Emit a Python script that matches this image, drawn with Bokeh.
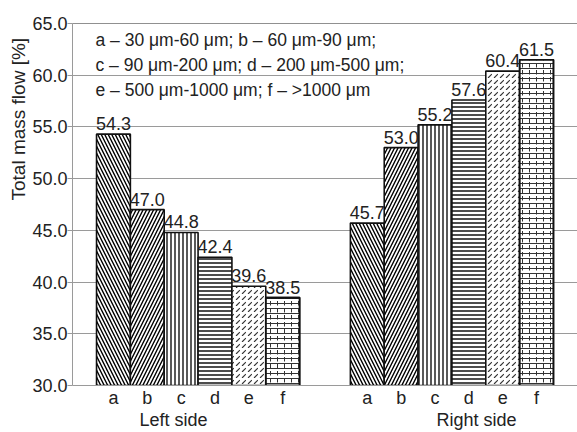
from bokeh.plotting import figure
from bokeh.models import (FactorRange, Range1d, Label, Span, ColumnDataSource,
                          FixedTicker, NumeralTickFormatter, CategoricalAxis,
                          Title)
from bokeh.embed import file_html
from bokeh.resources import INLINE
from bokeh.core.properties import value

# ---------------- data ----------------
groups = ["Left side", "Right side"]
sizes = ["a", "b", "c", "d", "e", "f"]
left_values = [54.3, 47.0, 44.8, 42.4, 39.6, 38.5]
right_values = [45.7, 53.0, 55.2, 57.6, 60.4, 61.5]
y_ticks = [30.0, 35.0, 40.0, 45.0, 50.0, 55.0, 60.0, 65.0]
y_label = "Total mass flow [%]"
legend_lines = [
    "a \u2013 30 \u03bcm-60 \u03bcm; b \u2013 60 \u03bcm-90 \u03bcm;",
    "c \u2013 90 \u03bcm-200 \u03bcm; d \u2013 200 \u03bcm-500 \u03bcm;",
    "e \u2013 500 \u03bcm-1000 \u03bcm; f \u2013 >1000 \u03bcm",
]

# ---------------- styles ----------------
FONT = "Liberation Sans"
TXT = "#222222"
GRID = "#9a9a9a"
hatch_style = {
    "a": ("left_diagonal_line", 7, 1.4, "black"),
    "b": ("right_diagonal_line", 7, 1.4, "black"),
    "c": ("vertical_line", 4, 1.3, "black"),
    "d": ("horizontal_line", 4, 1.4, "black"),
    "e": ("right_diagonal_dash", 6, 1.2, "#333333"),
    "f": ("horizontal_line", 5, 1.0, "#333333"),
}

factors = [(g, s) for g in groups for s in sizes]
vals = left_values + right_values
src = ColumnDataSource(dict(
    x=factors,
    top=vals,
    label=["%.1f" % v for v in vals],
    pattern=[hatch_style[s][0] for g in groups for s in sizes],
    scale=[hatch_style[s][1] for g in groups for s in sizes],
    weight=[hatch_style[s][2] for g in groups for s in sizes],
    hcolor=[hatch_style[s][3] for g in groups for s in sizes],
))
brick_idx = [i for i, f in enumerate(factors) if f[1] == "f"]
brick_src = ColumnDataSource(dict(
    x=[factors[i] for i in brick_idx],
    top=[vals[i] for i in brick_idx],
))

y_min, y_max = y_ticks[0], y_ticks[-1]

p = figure(
    x_range=FactorRange(*factors, group_padding=1.5, range_padding=0.71,
                        range_padding_units="absolute"),
    y_range=Range1d(y_min, y_max),
    width=577, height=432,
    output_backend="svg", toolbar_location=None,
    min_border_left=72, min_border_right=0, min_border_top=23,
    min_border_bottom=47,
)
p.outline_line_color = None
p.background_fill_color = "white"

# grid
p.xgrid.grid_line_color = None
p.ygrid.grid_line_color = GRID
p.ygrid.grid_line_width = 1
p.ygrid.ticker = FixedTicker(ticks=y_ticks)

# top border
p.add_layout(Span(location=y_max, dimension="width", line_color="#222222",
                  line_width=1.2))

# bars
p.vbar(x="x", top="top", bottom=y_min, width=1.0, source=src,
       fill_color="white", line_color="#111111", line_width=1.6,
       hatch_pattern="pattern", hatch_scale="scale", hatch_weight="weight",
       hatch_color="hcolor")
p.vbar(x="x", top="top", bottom=y_min, width=1.0, source=brick_src,
       fill_color=None, line_color="#111111", line_width=1.6,
       hatch_pattern="vertical_dash", hatch_scale=7, hatch_weight=1.0,
       hatch_color="#333333")

# value labels
p.text(x="x", y="top", text="label", source=src, text_align="center",
       text_baseline="bottom", y_offset=-4,
       text_font=value(FONT), text_font_size="18px", text_color=TXT)

# y axis
p.yaxis.ticker = FixedTicker(ticks=y_ticks)
p.yaxis.formatter = NumeralTickFormatter(format="0.0")
p.yaxis.major_label_text_font = FONT
p.yaxis.major_label_text_font_size = "18px"
p.yaxis.major_label_text_color = TXT
p.yaxis.major_label_standoff = 0
p.yaxis.axis_line_color = GRID
p.yaxis.major_tick_line_color = GRID
p.yaxis.major_tick_out = 5
p.yaxis.major_tick_in = 0
p.yaxis.minor_tick_line_color = None

# y axis title (placed like the original, above centre)
p.add_layout(Title(text=y_label, align="left", offset=185, text_font=FONT,
                   text_font_size="19px", text_font_style="normal",
                   text_color=TXT, standoff=2), "left")

# x axis: letters
xa = p.xaxis[0]
xa.axis_line_color = GRID
xa.major_tick_line_color = None
xa.minor_tick_line_color = None
xa.major_tick_out = 0
xa.major_label_text_font = FONT
xa.major_label_text_font_size = "18px"
xa.major_label_text_color = TXT
xa.major_label_standoff = 2
xa.group_text_font_size = "1px"
xa.group_text_color = None
xa.separator_line_color = None

# x axis: group names (own range so they sit where the original has them)
p.extra_x_ranges = {"groups": FactorRange(*groups, factor_padding=2.03,
                                          range_padding=0.51,
                                          range_padding_units="absolute")}
ga = CategoricalAxis(x_range_name="groups")
ga.axis_line_color = None
ga.major_tick_line_color = None
ga.major_tick_out = 0
ga.minor_tick_line_color = None
ga.major_label_text_font = FONT
ga.major_label_text_font_size = "18px"
ga.major_label_text_color = TXT
ga.major_label_standoff = -1
p.add_layout(ga, "below")

# legend text
for i, line in enumerate(legend_lines):
    p.add_layout(Label(x=23, y=346 - 25 * i, x_units="screen", y_units="screen",
                       text=line, text_font=FONT, text_font_size="17.5px",
                       text_color=TXT, text_baseline="alphabetic"))

open("out.html", "w").write(file_html(p, INLINE))
